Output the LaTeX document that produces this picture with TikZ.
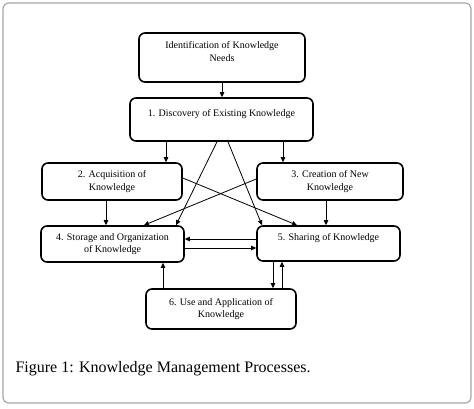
\documentclass[tikz,border=0pt]{standalone}
\usepackage{fontspec}
\setmainfont{Liberation Serif}
\usetikzlibrary{arrows.meta}
\begin{document}
\begin{tikzpicture}[x=1pt,y=-1pt,
    stage/.style={draw,line width=1.6pt,rounded corners=6pt,align=center,
        inner sep=0pt,font=\fontsize{10}{12.5}\selectfont},
    flow/.style={-{Triangle[length=5pt,width=4.5pt]},line width=0.8pt}]
\useasboundingbox (0,0) rectangle (474,409);
\draw[gray!70,line width=1.2pt,rounded corners=6pt] (3,3) rectangle (471,403);

% boxes
\node[stage,minimum width=166pt,minimum height=49pt] (need) at (222,57.5)
    {Identification of Knowledge\\ Needs\\ \mbox{}};
\node[stage,minimum width=183pt,minimum height=43pt] (disc) at (221.5,119.5)
    {1. Discovery of Existing Knowledge\\ \mbox{}};
\node[stage,minimum width=140pt,minimum height=37pt] (acq) at (112,181.5)
    {2. Acquisition of\\ Knowledge};
\node[stage,minimum width=146pt,minimum height=37pt] (crea) at (330,181.5)
    {3. Creation of New\\ Knowledge};
\node[stage,minimum width=143pt,minimum height=36pt] (stor) at (112.5,244)
    {4. Storage and Organization\\ of Knowledge};
\node[stage,minimum width=143pt,minimum height=35pt] (shar) at (328.5,243.5)
    {5. Sharing of Knowledge\\ \mbox{}};
\node[stage,minimum width=150pt,minimum height=40pt] (use) at (221,309)
    {6. Use and Application of\\ Knowledge};

% arrows
\draw[flow] (need.south) -- (need.south |- disc.north);
\draw[flow] ([xshift=-55.5pt]disc.south) -- ([xshift=-55.5pt]disc.south |- acq.north);
\draw[flow] ([xshift=61.5pt]disc.south) -- ([xshift=61.5pt]disc.south |- crea.north);
\draw[flow] ([xshift=-4.5pt]disc.south) -- ([xshift=63.5pt]stor.north);
\draw[flow] ([xshift=6.5pt]disc.south) -- ([xshift=-66.5pt]shar.north);
\draw[flow] ([xshift=-6pt]acq.south) -- ([xshift=-6pt]acq.south |- stor.north);
\draw[flow] ([xshift=-4pt]crea.south) -- ([xshift=-4pt]crea.south |- shar.north);
\draw[flow] ([yshift=3.5pt]acq.east) -- ([xshift=-31.5pt]shar.north);
\draw[flow] ([yshift=2.5pt]crea.west) -- ([xshift=31.5pt]stor.north);
\draw[flow] ([yshift=4.5pt]shar.west) -- ([yshift=4.5pt]shar.west -| stor.east);
\draw[flow] ([yshift=-4pt]stor.east) -- ([yshift=-4pt]stor.east -| shar.west);
\draw[flow] ([xshift=-58pt]use.north) -- ([xshift=-58pt]use.north |- stor.south);
\draw[flow] ([xshift=-55.5pt]shar.south) -- ([xshift=-55.5pt]shar.south |- use.north);
\draw[flow] ([xshift=61pt]use.north) -- ([xshift=61pt]use.north |- shar.south);

% caption
\node[anchor=base west,font=\fontsize{16}{19}\selectfont] (cap) at (12,372)
    {Figure 1: Knowledge Management Processes.};
\end{tikzpicture}
\end{document}
